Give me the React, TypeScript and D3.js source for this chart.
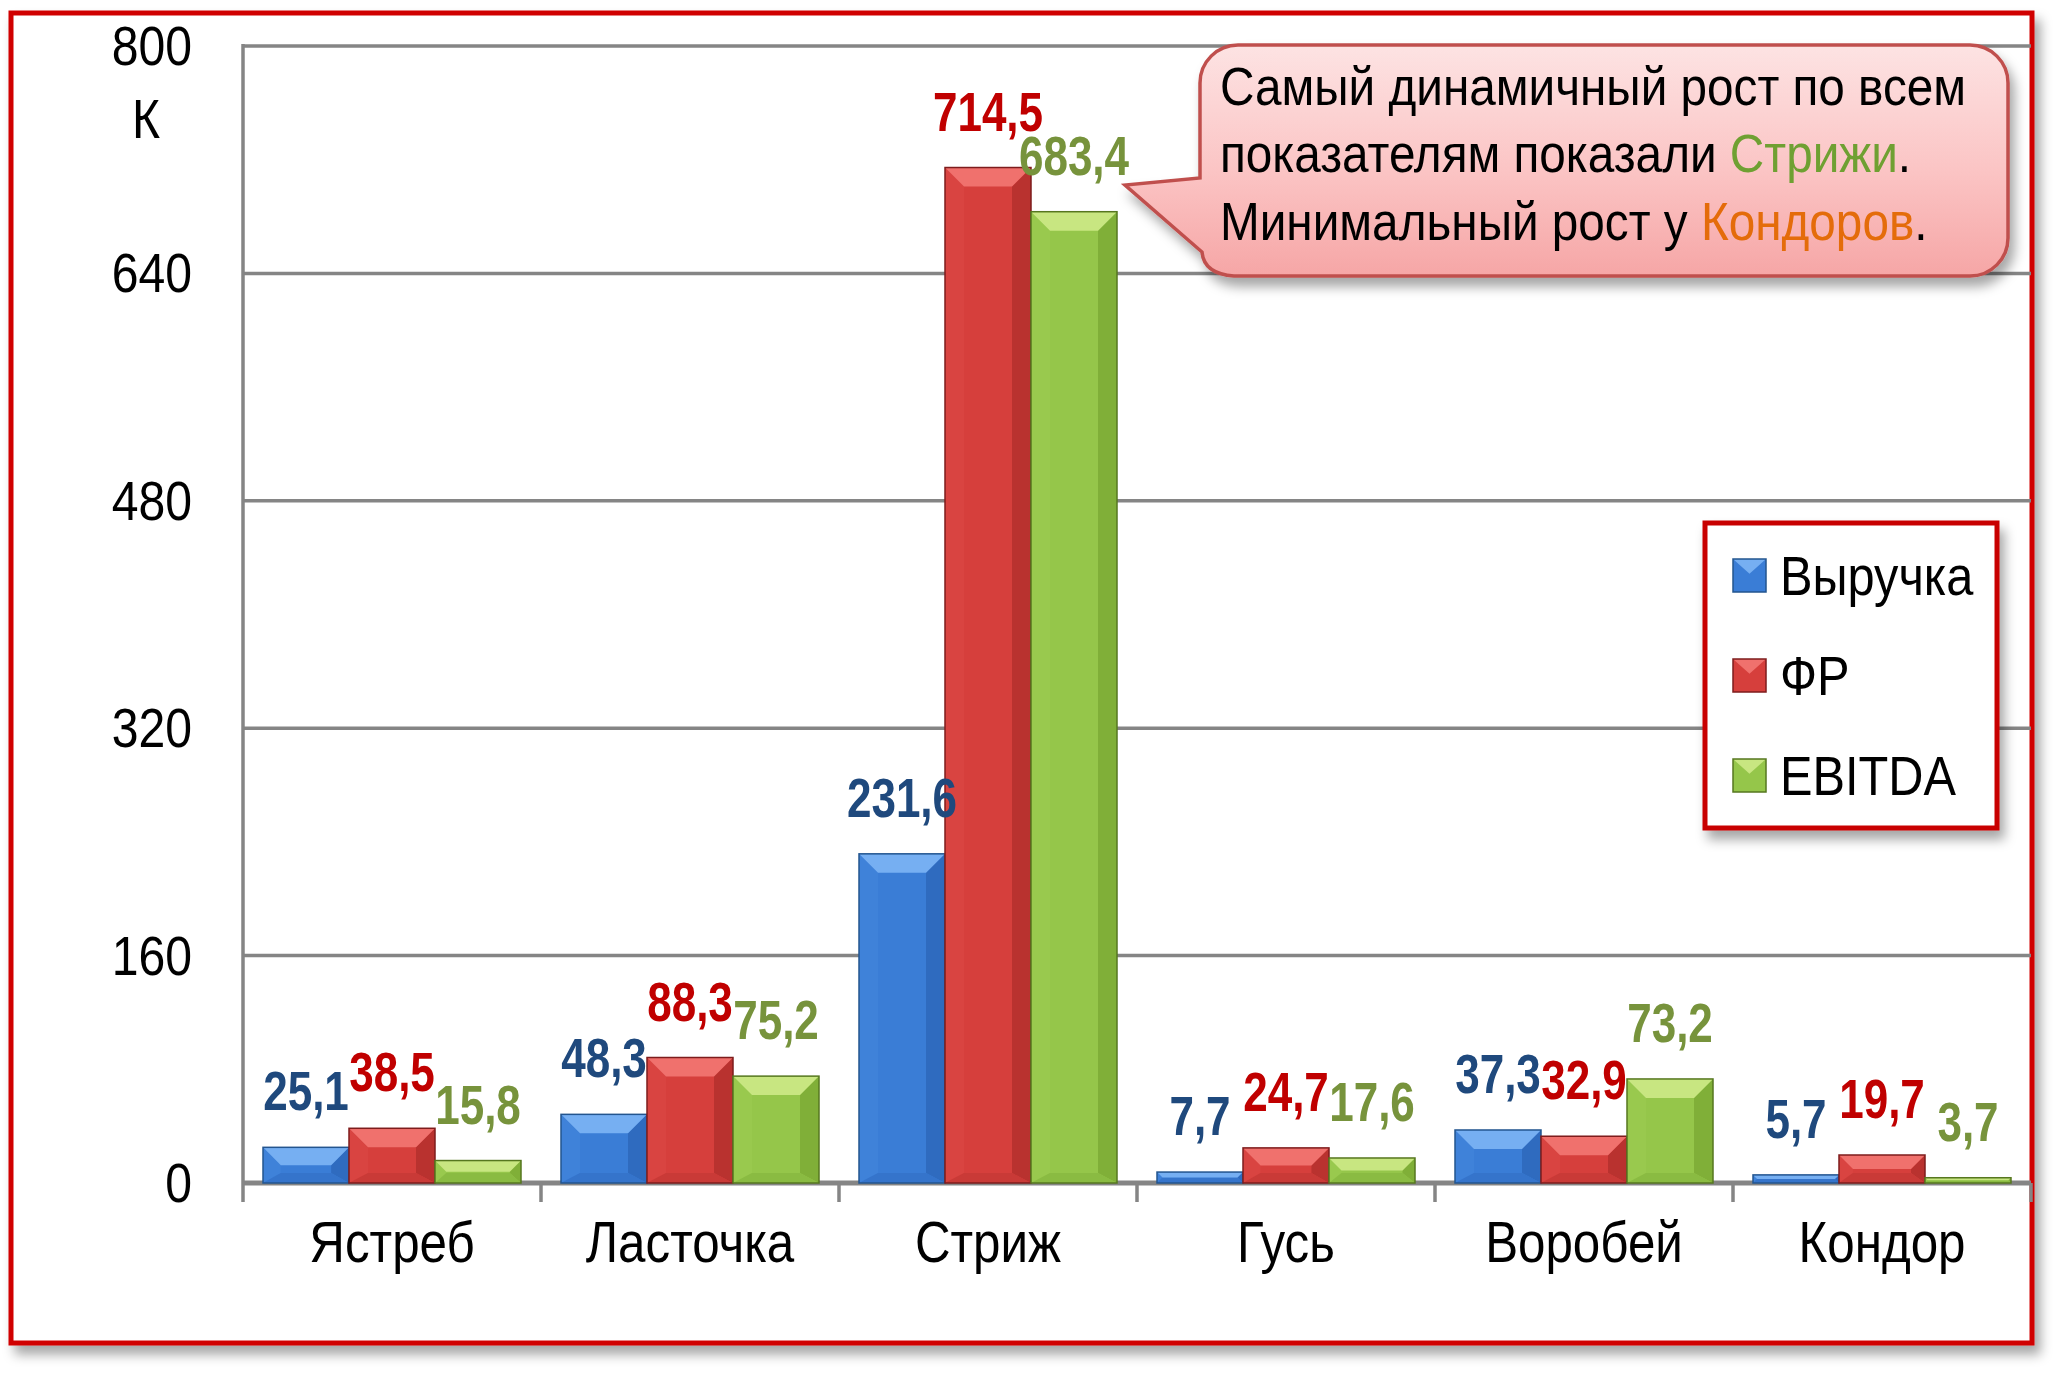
import React from "react";
import * as d3 from "d3";

const categories = ["Ястреб", "Ласточка", "Стриж", "Гусь", "Воробей", "Кондор"];
const seriesNames = ["Выручка", "ФР", "EBITDA"];
const revenue = [25.1, 48.3, 231.6, 7.7, 37.3, 5.7];
const fr = [38.5, 88.3, 714.5, 24.7, 32.9, 19.7];
const ebitda = [15.8, 75.2, 683.4, 17.6, 73.2, 3.7];
const yTicks = [0, 160, 320, 480, 640, 800];
const unitLabel = "К";
const noteLine1 = "Самый динамичный рост по всем";
const noteLine2a = "показателям показали ";
const noteLine2b = "Стрижи";
const noteLine3a = "Минимальный рост у ";
const noteLine3b = "Кондоров";

const seriesValues = [revenue, fr, ebitda];

const palette = [
  { main: "#3A7DD6", top: "#76AFF2", left: "#3F82D9", right: "#2F6BBF", bottom: "#3574CB", stroke: "#23558F", label: "#1F497D" },
  { main: "#D63F3C", top: "#F0716D", left: "#D94441", right: "#B9322F", bottom: "#C93a37", stroke: "#7E1C1C", label: "#C00000" },
  { main: "#95C64A", top: "#C8E681", left: "#99C94E", right: "#80AF38", bottom: "#8ABB42", stroke: "#56771F", label: "#77933C" },
];

const FONT = "'Liberation Sans', Arial, sans-serif";
const W = 2067;
const H = 1378;

function CText(props: any) {
  const { x, y, sx = 0.86, children, ...rest } = props;
  return (
    <text transform={`translate(${x},${y}) scale(${sx},1)`} fontFamily={FONT} {...rest}>
      {children}
    </text>
  );
}

function Bar({ x, y, w, h, c }: any) {
  if (h <= 0) return null;
  const b = Math.min(19, h / 2, w / 2);
  const bb = Math.min(10, h / 2);
  const pts = (a: number[][]) => a.map((p) => p.join(",")).join(" ");
  return (
    <g>
      <rect x={x} y={y} width={w} height={h} fill={c.main} />
      <polygon points={pts([[x, y], [x + b, y + b], [x + b, y + h - bb], [x, y + h]])} fill={c.left} />
      <polygon points={pts([[x + w, y], [x + w - b, y + b], [x + w - b, y + h - bb], [x + w, y + h]])} fill={c.right} />
      <polygon points={pts([[x, y + h], [x + b, y + h - bb], [x + w - b, y + h - bb], [x + w, y + h]])} fill={c.bottom} />
      <polygon points={pts([[x, y], [x + w, y], [x + w - b, y + b], [x + b, y + b]])} fill={c.top} />
      <rect x={x} y={y} width={w} height={h} fill="none" stroke={c.stroke} strokeWidth={1.5} />
    </g>
  );
}

function Swatch({ x, y, s, c }: any) {
  const b = s * 0.45;
  const pts = (a: number[][]) => a.map((p) => p.join(",")).join(" ");
  return (
    <g>
      <rect x={x} y={y} width={s} height={s} fill={c.main} />
      <polygon points={pts([[x, y], [x + s, y], [x + s / 2, y + b]])} fill={c.top} />
      <rect x={x} y={y} width={s} height={s} fill="none" stroke={c.stroke} strokeWidth={1.5} />
    </g>
  );
}

export default function App() {
  const plotLeft = 243;
  const plotRight = 2031;
  const baseY = 1183;
  const topY = 46;

  const x0 = d3.scaleBand<string>().domain(categories).range([plotLeft, plotRight]).padding(0);
  const step = x0.step();
  const x1 = d3.scaleBand<string>().domain(seriesNames).range([20, step - 20]).padding(0);
  const y = d3.scaleLinear().domain([0, 800]).range([baseY, topY]);
  const fmt = (v: number) => v.toFixed(1).replace(".", ",");

  const bx0 = 1200, by0 = 45, bx1 = 2008, by1 = 276, r = 38;
  const calloutPath =
    `M ${bx0 + r} ${by0} H ${bx1 - r} A ${r} ${r} 0 0 1 ${bx1} ${by0 + r} V ${by1 - r} ` +
    `A ${r} ${r} 0 0 1 ${bx1 - r} ${by1} H ${bx0 + 34} Q ${bx0 + 4} ${by1 - 2} ${bx0 + 2} ${by1 - 24} ` +
    `L 1125 185 L ${bx0} 178 V ${by0 + r} A ${r} ${r} 0 0 1 ${bx0 + r} ${by0} Z`;

  return (
    <div style={{ position: "absolute", left: 0, top: 0, width: W, height: H, background: "#fff" }}>
      <svg width={W} height={H} viewBox={`0 0 ${W} ${H}`}>
        <defs>
          <filter id="frameShadow" x="-5%" y="-5%" width="110%" height="112%">
            <feDropShadow dx="6" dy="9" stdDeviation="6" floodColor="#000" floodOpacity="0.35" />
          </filter>
          <filter id="boxShadow" x="-10%" y="-10%" width="125%" height="130%">
            <feDropShadow dx="5" dy="9" stdDeviation="6" floodColor="#000" floodOpacity="0.35" />
          </filter>
          <linearGradient id="calloutFill" x1="0" y1="0" x2="0" y2="1">
            <stop offset="0%" stopColor="#FDE3E3" />
            <stop offset="55%" stopColor="#FBC4C4" />
            <stop offset="100%" stopColor="#F6A6A6" />
          </linearGradient>
        </defs>

        <rect x={11} y={13} width={2021} height={1330} fill="#fff" stroke="#D00000" strokeWidth={5} filter="url(#frameShadow)" />

        {yTicks.map((t) => (
          <line key={"g" + t} x1={plotLeft} x2={plotRight} y1={y(t)} y2={y(t)} stroke="#858585" strokeWidth={t === 0 ? 5 : 3.5} />
        ))}
        <line x1={plotLeft} x2={plotLeft} y1={topY - 2} y2={baseY + 19} stroke="#858585" strokeWidth={3.5} />
        {categories.map((c, i) => (
          <line key={"t" + c} x1={plotLeft + step * (i + 1)} x2={plotLeft + step * (i + 1)} y1={baseY} y2={baseY + 19} stroke="#858585" strokeWidth={3.5} />
        ))}

        {yTicks.map((t) => (
          <CText key={"yl" + t} x={192} y={y(t) + 19} fontSize={56} textAnchor="end" fill="#000">
            {String(t)}
          </CText>
        ))}
        <CText x={146} y={138} fontSize={56} textAnchor="middle" fill="#000">
          {unitLabel}
        </CText>

        {categories.map((cat, i) => (
          <g key={"c" + cat}>
            {seriesNames.map((s, j) => {
              const v = seriesValues[j][i];
              const bx = (x0(cat) as number) + (x1(s) as number);
              const by = y(v);
              return <Bar key={s} x={bx} y={by} w={x1.bandwidth()} h={baseY - by} c={palette[j]} />;
            })}
          </g>
        ))}

        {categories.map((cat, i) => (
          <g key={"l" + cat}>
            {seriesNames.map((s, j) => {
              const v = seriesValues[j][i];
              const cx = (x0(cat) as number) + (x1(s) as number) + x1.bandwidth() / 2;
              return (
                <CText key={s} x={cx} y={y(v) - 37} sx={0.8} fontSize={55} fontWeight="bold" textAnchor="middle" fill={palette[j].label}>
                  {fmt(v)}
                </CText>
              );
            })}
          </g>
        ))}

        {categories.map((cat) => (
          <CText key={"cl" + cat} x={(x0(cat) as number) + step / 2} y={1262} sx={0.85} fontSize={58} textAnchor="middle" fill="#000">
            {cat}
          </CText>
        ))}

        <path d={calloutPath} fill="url(#calloutFill)" stroke="#C0504D" strokeWidth={3.5} filter="url(#boxShadow)" />
        <CText x={1220} y={105} sx={0.9} fontSize={53} fill="#000" letterSpacing={0}>
          {noteLine1}
        </CText>
        <CText x={1220} y={172} sx={0.9} fontSize={53} fill="#000" letterSpacing={0}>
          {noteLine2a}
          <tspan fill="#6FA032">{noteLine2b}</tspan>
          <tspan>.</tspan>
        </CText>
        <CText x={1220} y={240} sx={0.9} fontSize={53} fill="#000" letterSpacing={0}>
          {noteLine3a}
          <tspan fill="#E46C0A">{noteLine3b}</tspan>
          <tspan>.</tspan>
        </CText>

        <rect x={1705} y={523} width={292} height={305} fill="#fff" stroke="#C80000" strokeWidth={5} filter="url(#boxShadow)" />
        {seriesNames.map((s, j) => {
          const base = 595 + j * 100;
          return (
            <g key={"lg" + s}>
              <Swatch x={1733} y={base - 36} s={33} c={palette[j]} />
              <CText x={1780} y={base} fontSize={56} sx={0.87} fill="#000">
                {s}
              </CText>
            </g>
          );
        })}
      </svg>
    </div>
  );
}
